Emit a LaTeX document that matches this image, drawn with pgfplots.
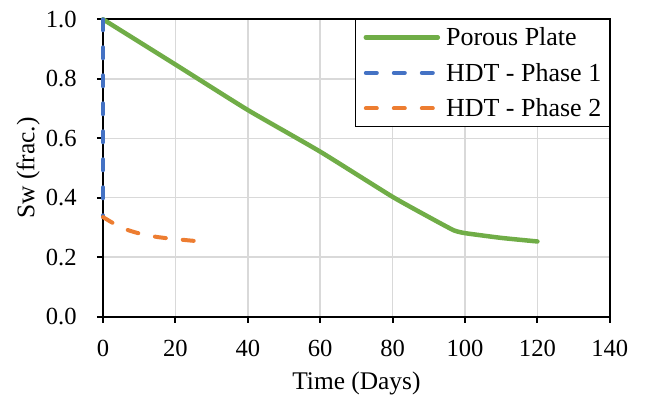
\documentclass[border=0pt]{standalone}
\usepackage{fontspec}
\setmainfont{Liberation Serif}
\usepackage{pgfplots}
\pgfplotsset{compat=1.18}
\definecolor{exgreen}{HTML}{70AD47}
\definecolor{exblue}{HTML}{4472C4}
\definecolor{exorange}{HTML}{ED7D31}
\definecolor{gridgray}{HTML}{D9D9D9}
\begin{document}
\begin{tikzpicture}
\path[use as bounding box] (-51.5pt,-40.65pt) rectangle (271.5pt,158.35pt);
\begin{axis}[
  at={(0,0)}, anchor=south west,
  scale only axis,
  width=253.4pt, height=148.7pt,
  xmin=0, xmax=140, ymin=0, ymax=1.0,
  xtick={0,20,...,140},
  ytick={0,0.2,...,1.0},
  yticklabel style={/pgf/number format/fixed, /pgf/number format/fixed zerofill, /pgf/number format/precision=1},
  /pgf/number format/assume math mode=true,
  tick label style={font=\fontsize{12.3}{14}\selectfont},
  xticklabel style={anchor=north, inner sep=0pt, yshift=-8.7pt},
  yticklabel style={anchor=east, inner sep=0pt, xshift=-10pt},
  xlabel={Time (Days)},
  ylabel={Sw (frac.)},
  every axis x label/.style={at={(axis description cs:0.5,0)}, anchor=base, inner sep=0pt, yshift=-36.6pt, font=\fontsize{12.7}{15}\selectfont},
  every axis y label/.style={at={(axis description cs:0,0.5)}, rotate=90, anchor=north, inner sep=0pt, yshift=43.5pt, font=\fontsize{12.7}{15}\selectfont},
  grid=major,
  major grid style={gridgray, line width=0.75pt},
  axis line style={black, line width=1pt},
  tick align=outside,
  xtick pos=bottom, ytick pos=left,
  major tick length=3pt,
  tick style={black, line width=1pt},
  clip=false,
  legend style={at={(1,1)}, anchor=north east, draw=black, line width=0.5pt,
    font=\fontsize{13}{15}\selectfont, inner xsep=4pt, inner ysep=1pt,
    row sep=2.15pt, column sep=3pt,
    nodes={inner sep=0pt, text height=12pt, text depth=3.6pt}},
  legend cell align=left,
  legend image code/.code={\draw[#1] (0pt,0pt) -- (36pt,0pt);},
]
\addplot[exgreen, line width=2.25pt, line cap=round, line join=round, smooth, tension=0.3] coordinates {
  (0,1.0) (20,0.848) (40,0.695) (60,0.555) (80,0.403) (92,0.322) (97,0.290) (100,0.281) (110,0.265) (120,0.253)
};
\addlegendentry{Porous Plate}
\addplot[exblue, line width=2pt, line cap=round, dash pattern=on 5.5pt off 8.5pt] coordinates {
  (0,1.0) (0,0.335)
};
\addlegendentry{HDT - Phase 1}
\addplot[exorange, line width=2pt, line cap=round, dash pattern=on 5.5pt off 8.5pt, smooth] coordinates {
  (0,0.335) (5,0.300) (10,0.280) (15,0.268) (20,0.261) (26,0.254)
};
\addlegendentry{HDT - Phase 2}
\end{axis}
\end{tikzpicture}
\end{document}
